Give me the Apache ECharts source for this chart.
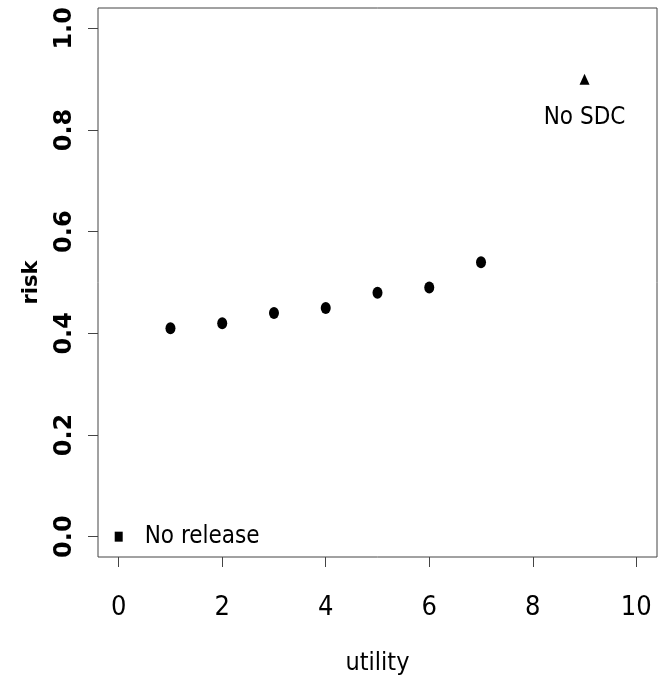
<!DOCTYPE html>
<html>
<head>
<meta charset="utf-8">
<script src="https://cdn.jsdelivr.net/npm/echarts@6/dist/echarts.min.js"></script>
<style>
  html, body { margin: 0; padding: 0; background: #fff; }
  #chart { width: 663px; height: 681px; }
</style>
</head>
<body>
<div id="chart"></div>
<script>
// utility / risk values
var utility = [1, 2, 3, 4, 5, 6, 7];
var risk = [0.41, 0.42, 0.44, 0.45, 0.48, 0.49, 0.54];
var noRelease = [0, 0];
var noSDC = [9, 0.9];
var xTicks = [0, 2, 4, 6, 8, 10];
var yTicks = [0, 0.2, 0.4, 0.6, 0.8, 1.0];

var narrow = "'DejaVu Sans Condensed', 'Liberation Sans Narrow', 'Liberation Sans', sans-serif";
var wide = "'DejaVu Sans', sans-serif";

var chart = echarts.init(document.getElementById('chart'));

var points = [];
for (var i = 0; i < utility.length; i++) {
    points.push([utility[i], risk[i]]);
}

var option = {
    animation: false,
    backgroundColor: '#fff',
    grid: {
        left: 98, right: 6, top: 8, bottom: 124,
        show: true, borderColor: '#444', borderWidth: 1
    },
    xAxis: {
        type: 'value',
        min: -0.4, max: 10.4,
        name: 'utility',
        nameLocation: 'middle',
        nameGap: 94,
        nameTextStyle: { fontFamily: narrow, fontSize: 25, color: '#000' },
        axisLine: { show: false, onZero: false },
        splitLine: { show: false },
        axisTick: { show: true, length: 10, lineStyle: { color: '#444' }, customValues: xTicks },
        axisLabel: {
            fontFamily: narrow, fontSize: 27, color: '#000', margin: 37,
            customValues: xTicks,
            formatter: function (v) { return String(v); }
        }
    },
    yAxis: {
        type: 'value',
        min: -0.04, max: 1.04,
        name: 'risk',
        nameLocation: 'middle',
        nameGap: 56,
        nameRotate: 90,
        nameTextStyle: { fontFamily: wide, fontWeight: 'bold', fontSize: 21, color: '#000' },
        axisLine: { show: false, onZero: false },
        splitLine: { show: false },
        axisTick: { show: true, length: 10, lineStyle: { color: '#444' }, customValues: yTicks },
        axisLabel: {
            rotate: 90,
            fontFamily: wide, fontWeight: 'bold', fontSize: 24, color: '#000',
            margin: 21,
            customValues: yTicks,
            formatter: function (v) { return v.toFixed(1); }
        }
    },
    series: [
        {
            type: 'scatter',
            symbol: 'circle',
            symbolSize: [10, 12],
            itemStyle: { color: '#000', opacity: 1 },
            data: points
        },
        {
            type: 'scatter',
            symbol: 'rect',
            symbolSize: [8, 10],
            itemStyle: { color: '#000', opacity: 1 },
            label: {
                show: true, position: 'right', distance: 22,
                formatter: 'No release',
                fontFamily: narrow, fontSize: 24, color: '#000'
            },
            data: [noRelease]
        },
        {
            type: 'scatter',
            symbol: 'triangle',
            symbolSize: [10, 11],
            itemStyle: { color: '#000', opacity: 1 },
            label: {
                show: true, position: 'bottom', distance: 21,
                formatter: 'No SDC',
                fontFamily: narrow, fontSize: 24, color: '#000'
            },
            data: [noSDC]
        }
    ]
};

chart.setOption(option);
</script>
</body>
</html>
